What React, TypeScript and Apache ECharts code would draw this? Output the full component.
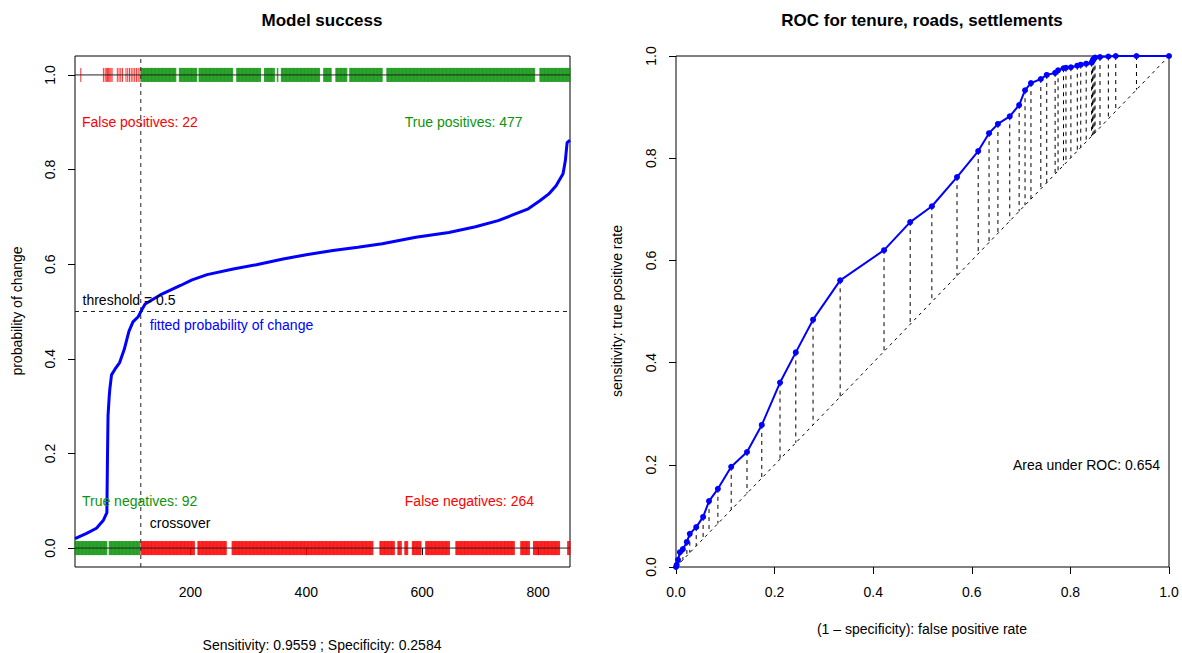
import React, { useEffect, useRef } from "react";
import * as echarts from "echarts";

// ---------- Left panel data (Model success) ----------
const N_OBS = 855;
const THRESHOLD = 0.5;
const CROSSOVER = 114.5;

// sorted fitted probability of change (index, value)
const fittedIdx = [1, 21, 38, 50, 56, 57, 58, 60, 61, 64, 70, 78, 86, 94, 101, 110, 116, 122, 148, 183, 203, 229, 274, 314, 360, 400, 446, 489, 531, 589, 646, 692, 731, 754, 783, 803, 818, 831, 843, 847, 850, 855];
const fittedProb = [0.02, 0.031, 0.042, 0.059, 0.075, 0.19, 0.28, 0.32, 0.335, 0.366, 0.378, 0.392, 0.42, 0.458, 0.478, 0.489, 0.503, 0.516, 0.535, 0.555, 0.567, 0.578, 0.59, 0.599, 0.611, 0.62, 0.629, 0.636, 0.643, 0.657, 0.667, 0.679, 0.692, 0.703, 0.717, 0.734, 0.748, 0.766, 0.791, 0.819, 0.857, 0.862];

const topRedIdx = [11, 50, 53, 55, 57, 59, 61, 63, 65, 74, 77, 80, 83, 89, 92, 95, 98, 101, 104, 107, 110, 113];
const topGreenRuns = [[115, 175], [181, 211], [215, 273], [280, 321], [328, 345], [350, 351], [357, 423], [430, 443], [451, 470], [475, 531], [539, 794], [803, 855]];
const bottomGreenRuns = [[1, 56], [60, 113]];
const bottomRedRuns = [[115, 207], [213, 262], [272, 515], [527, 552], [558, 564], [570, 575], [583, 598], [606, 647], [658, 759], [770, 785], [792, 837], [851, 855]];

const leftXTicks = [200, 400, 600, 800];
const leftYTicks = [0, 0.2, 0.4, 0.6, 0.8, 1.0];

// ---------- Right panel data (ROC) ----------
const rocFpr = [0, 0.0014, 0.004, 0.008, 0.014, 0.022, 0.028, 0.041, 0.055, 0.067, 0.085, 0.112, 0.144, 0.174, 0.211, 0.243, 0.278, 0.333, 0.422, 0.475, 0.519, 0.57, 0.613, 0.635, 0.653, 0.677, 0.696, 0.708, 0.72, 0.74, 0.752, 0.769, 0.775, 0.786, 0.791, 0.801, 0.814, 0.821, 0.832, 0.843, 0.845, 0.846, 0.848, 0.85, 0.86, 0.877, 0.892, 0.934, 1.0];
const rocTpr = [0, 0.004, 0.014, 0.029, 0.035, 0.049, 0.065, 0.078, 0.098, 0.129, 0.153, 0.196, 0.225, 0.278, 0.361, 0.42, 0.484, 0.561, 0.62, 0.675, 0.706, 0.763, 0.814, 0.849, 0.867, 0.882, 0.904, 0.933, 0.947, 0.955, 0.963, 0.967, 0.972, 0.976, 0.977, 0.978, 0.981, 0.983, 0.985, 0.987, 0.99, 0.993, 0.995, 0.997, 0.998, 0.999, 1.0, 1.0, 1.0];
const rocTicks = [0, 0.2, 0.4, 0.6, 0.8, 1.0];

const FONT = "'Liberation Sans', Arial, Helvetica, sans-serif";
const GREEN = "#0c930c";
const RED = "#ff0000";
const BLUE = "#0000ff";

function expandRuns(runs: number[][]): number[] {
  const out: number[] = [];
  for (const [a, b] of runs) for (let i = a; i <= b; i++) out.push(i);
  return out;
}

const leftNotes = [
  { x: 13, y: 0.9, text: "False positives: 22", color: RED, align: "left" },
  { x: 570, y: 0.9, text: "True positives: 477", color: GREEN, align: "left" },
  { x: 14, y: 0.524, text: "threshold = 0.5", color: "#000", align: "left" },
  { x: 130, y: 0.471, text: "fitted probability of change", color: BLUE, align: "left" },
  { x: 13, y: 0.1, text: "True negatives: 92", color: GREEN, align: "left" },
  { x: 570, y: 0.1, text: "False negatives: 264", color: RED, align: "left" },
  { x: 130, y: 0.053, text: "crossover", color: "#000", align: "left" },
];
const rightNotes = [{ x: 0.982, y: 0.2, text: "Area under ROC: 0.654", color: "#000", align: "right" }];

function rugSeries(idx: number[], yVal: number, color: string) {
  return {
    type: "custom",
    xAxisIndex: 0,
    yAxisIndex: 0,
    silent: true,
    z: 2,
    data: idx.map((i) => [i, yVal]),
    renderItem: (_p: any, api: any) => {
      const c = api.coord([api.value(0), api.value(1)]);
      return {
        type: "line",
        shape: { x1: c[0], y1: c[1] - 7, x2: c[0], y2: c[1] + 7 },
        style: { stroke: color, lineWidth: 0.9, opacity: 0.9 },
      };
    },
  };
}

function notesSeries(notes: any[], xi: number) {
  return {
    type: "custom",
    xAxisIndex: xi,
    yAxisIndex: xi,
    silent: true,
    z: 10,
    data: notes.map((n, k) => [n.x, n.y, k]),
    renderItem: (_p: any, api: any) => {
      const n = notes[api.value(2)];
      const c = api.coord([api.value(0), api.value(1)]);
      return {
        type: "text",
        x: c[0],
        y: c[1],
        style: {
          text: n.text,
          fill: n.color,
          fontSize: 14,
          fontFamily: FONT,
          align: n.align,
          verticalAlign: "middle",
        },
      };
    },
  };
}

function valueAxis(gridIndex: number, min: number, max: number, ticks: number[], fmt: (v: number) => string, isY: boolean) {
  return {
    type: "value",
    gridIndex,
    min,
    max,
    axisLine: { show: false },
    splitLine: { show: false },
    axisTick: { show: true, length: 7, customValues: ticks, lineStyle: { color: "#000", width: 1 } },
    axisLabel: {
      customValues: ticks,
      formatter: (v: number) => fmt(v),
      color: "#000",
      fontSize: 14,
      fontFamily: FONT,
      margin: isY ? 18 : 18,
      rotate: isY ? 90 : 0,
    },
  };
}

export default function App() {
  const ref = useRef<HTMLDivElement>(null);
  useEffect(() => {
    if (!ref.current) return;
    const chart = echarts.init(ref.current, null, { renderer: "svg" });
    const curve = fittedIdx.map((x, k) => [x, fittedProb[k]]);
    const roc = rocFpr.map((x, k) => [x, rocTpr[k]]);
    const option: any = {
      animation: false,
      backgroundColor: "#fff",
      grid: [
        { left: 75, top: 56, width: 495, height: 511, show: true, borderColor: "#000", borderWidth: 1, backgroundColor: "transparent" },
        { left: 676, top: 56, width: 493, height: 511, show: true, borderColor: "#000", borderWidth: 1, backgroundColor: "transparent" },
      ],
      xAxis: [
        valueAxis(0, 1, N_OBS, leftXTicks, (v) => String(v), false),
        valueAxis(1, 0, 1, rocTicks, (v) => v.toFixed(1), false),
      ],
      yAxis: [
        valueAxis(0, -0.04, 1.04, leftYTicks, (v) => v.toFixed(1), true),
        valueAxis(1, 0, 1, rocTicks, (v) => v.toFixed(1), true),
      ],
      series: [
        rugSeries(topRedIdx, 1, RED),
        rugSeries(expandRuns(topGreenRuns), 1, GREEN),
        rugSeries(expandRuns(bottomGreenRuns), 0, GREEN),
        rugSeries(expandRuns(bottomRedRuns), 0, RED),
        {
          type: "line", xAxisIndex: 0, yAxisIndex: 0, symbol: "none", silent: true, z: 3,
          data: [[1, 1], [N_OBS, 1]], lineStyle: { color: "#222", width: 1 },
        },
        {
          type: "line", xAxisIndex: 0, yAxisIndex: 0, symbol: "none", silent: true, z: 3,
          data: [[1, 0], [N_OBS, 0]], lineStyle: { color: "#222", width: 1 },
        },
        {
          type: "line", xAxisIndex: 0, yAxisIndex: 0, symbol: "none", silent: true, z: 3,
          data: [[CROSSOVER, -0.04], [CROSSOVER, 1.04]], lineStyle: { color: "#222", width: 1, type: [4, 4] },
        },
        {
          type: "line", xAxisIndex: 0, yAxisIndex: 0, symbol: "none", silent: true, z: 3,
          data: [[1, THRESHOLD], [N_OBS, THRESHOLD]], lineStyle: { color: "#222", width: 1, type: [4, 4] },
        },
        {
          type: "line", xAxisIndex: 0, yAxisIndex: 0, symbol: "none", silent: true, z: 5,
          data: curve, lineStyle: { color: BLUE, width: 3 },
        },
        notesSeries(leftNotes, 0),
        // ROC panel
        {
          type: "line", xAxisIndex: 1, yAxisIndex: 1, symbol: "none", silent: true, z: 3,
          data: [[0, 0], [1, 1]], lineStyle: { color: "#000", width: 1, type: [3, 4] },
        },
        {
          type: "custom", xAxisIndex: 1, yAxisIndex: 1, silent: true, z: 3,
          data: roc,
          renderItem: (_p: any, api: any) => {
            const x = api.value(0);
            const y = api.value(1);
            const a = api.coord([x, y]);
            const b = api.coord([x, x]);
            return {
              type: "line",
              shape: { x1: a[0], y1: a[1], x2: b[0], y2: b[1] },
              style: { stroke: "#000", lineWidth: 1, lineDash: [4, 4] },
            };
          },
        },
        {
          type: "line", xAxisIndex: 1, yAxisIndex: 1, symbol: "circle", symbolSize: 6, silent: true, z: 5,
          data: roc, lineStyle: { color: BLUE, width: 2 }, itemStyle: { color: BLUE },
        },
        notesSeries(rightNotes, 1),
      ],
      graphic: [
        { type: "text", x: 322, y: 20, style: { text: "Model success", fill: "#000", fontSize: 17, fontWeight: "bold", fontFamily: FONT, align: "center", verticalAlign: "middle" } },
        { type: "text", x: 922, y: 20, style: { text: "ROC for tenure, roads, settlements", fill: "#000", fontSize: 17, fontWeight: "bold", fontFamily: FONT, align: "center", verticalAlign: "middle" } },
        { type: "text", x: 17, y: 311, rotation: Math.PI / 2, style: { text: "probability of change", fill: "#000", fontSize: 14, fontFamily: FONT, align: "center", verticalAlign: "middle" } },
        { type: "text", x: 322, y: 645, style: { text: "Sensitivity: 0.9559 ; Specificity: 0.2584", fill: "#000", fontSize: 14, fontFamily: FONT, align: "center", verticalAlign: "middle" } },
        { type: "text", x: 617, y: 311, rotation: Math.PI / 2, style: { text: "sensitivity: true positive rate", fill: "#000", fontSize: 14, fontFamily: FONT, align: "center", verticalAlign: "middle" } },
        { type: "text", x: 922, y: 629, style: { text: "(1 \u2013 specificity): false positive rate", fill: "#000", fontSize: 14, fontFamily: FONT, align: "center", verticalAlign: "middle" } },
      ],
    };
    chart.setOption(option);
    return () => chart.dispose();
  }, []);
  return <div ref={ref} style={{ position: "absolute", left: 0, top: 0, width: 1182, height: 653 }} />;
}
